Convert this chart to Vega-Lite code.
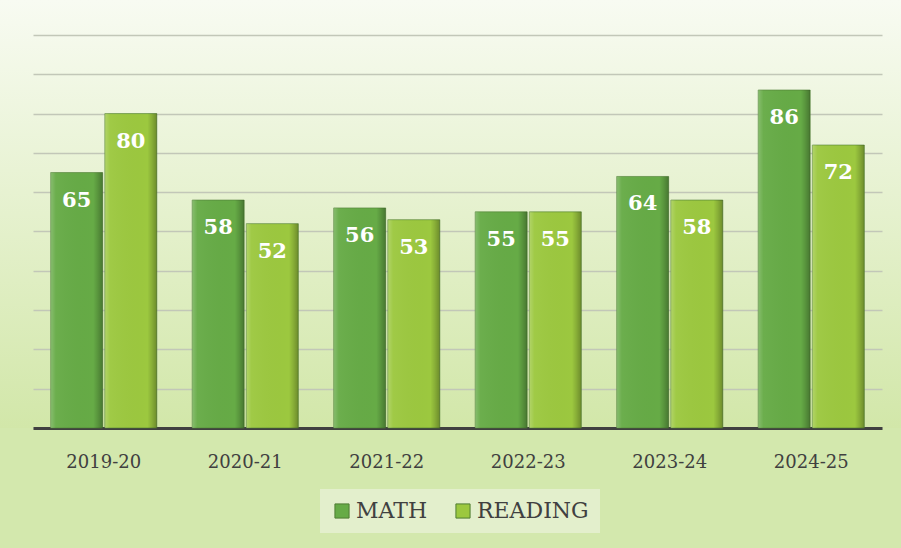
{
  "$schema": "https://vega.github.io/schema/vega-lite/v6.json",
  "width": 901,
  "height": 428,
  "autosize": {"type": "none"},
  "padding": {"left": 0, "top": 0, "right": 0, "bottom": 120},
  "background": "#d3e8ad",
  "view": {
    "stroke": null,
    "fill": {
      "gradient": "linear",
      "x1": 0, "y1": 0, "x2": 0, "y2": 1,
      "stops": [
        {"offset": 0, "color": "#f8fbf2"},
        {"offset": 1, "color": "#d2e7a9"}
      ]
    }
  },
  "data": {
    "values": [
      {"year": "2019-20", "subject": "MATH", "value": 65},
      {"year": "2019-20", "subject": "READING", "value": 80},
      {"year": "2020-21", "subject": "MATH", "value": 58},
      {"year": "2020-21", "subject": "READING", "value": 52},
      {"year": "2021-22", "subject": "MATH", "value": 56},
      {"year": "2021-22", "subject": "READING", "value": 53},
      {"year": "2022-23", "subject": "MATH", "value": 55},
      {"year": "2022-23", "subject": "READING", "value": 55},
      {"year": "2023-24", "subject": "MATH", "value": 64},
      {"year": "2023-24", "subject": "READING", "value": 58},
      {"year": "2024-25", "subject": "MATH", "value": 86},
      {"year": "2024-25", "subject": "READING", "value": 72}
    ]
  },
  "encoding": {
    "x": {
      "field": "year",
      "type": "nominal",
      "sort": null,
      "scale": {"range": [33, 882], "paddingInner": 0.25, "paddingOuter": 0.125},
      "axis": {
        "title": null,
        "ticks": false,
        "grid": false,
        "labelAngle": 0,
        "domainColor": "#404040",
        "domainWidth": 3,
        "labelFont": "DejaVu Serif",
        "labelFontSize": 18,
        "labelColor": "#404040",
        "labelPadding": 25
      }
    },
    "xOffset": {
      "field": "subject",
      "sort": ["MATH", "READING"],
      "scale": {"paddingInner": 0.04}
    },
    "y": {
      "field": "value",
      "type": "quantitative",
      "scale": {"domain": [0, 108.9], "nice": false},
      "axis": {
        "values": [0, 10, 20, 30, 40, 50, 60, 70, 80, 90, 100],
        "labels": false,
        "ticks": false,
        "domain": false,
        "title": null,
        "grid": true,
        "gridColor": "#c2c7b8",
        "gridWidth": 1.5,
        "minExtent": 0
      }
    }
  },
  "layer": [
    {
      "mark": {"type": "bar", "stroke": "#4e7d33", "strokeWidth": 1, "strokeOpacity": 0.6},
      "encoding": {
        "color": {
          "field": "subject",
          "type": "nominal",
          "scale": {"domain": ["MATH", "READING"], "range": ["#66ab46", "#9cc83f"]},
          "legend": {
            "orient": "none",
            "legendX": 320,
            "legendY": 489,
            "direction": "horizontal",
            "title": null,
            "fillColor": "#e3efcc",
            "padding": 11,
            "symbolType": "square",
            "symbolSize": 200,
            "symbolStrokeColor": "#4e7d33",
            "symbolStrokeWidth": 1,
            "labelFont": "DejaVu Serif",
            "labelFontSize": 22,
            "labelColor": "#404040",
            "labelOffset": 3,
            "columnPadding": 24
          }
        }
      }
    },
    {
      "mark": {
        "type": "bar",
        "fill": {
          "gradient": "linear",
          "x1": 0, "y1": 0, "x2": 1, "y2": 0,
          "stops": [
            {"offset": 0, "color": "rgba(255,255,255,0.22)"},
            {"offset": 0.1, "color": "rgba(255,255,255,0.04)"},
            {"offset": 0.82, "color": "rgba(0,0,0,0)"},
            {"offset": 0.9, "color": "rgba(0,0,0,0.12)"},
            {"offset": 1, "color": "rgba(0,0,0,0.3)"}
          ]
        }
      },
      "encoding": {}
    },
    {
      "mark": {
        "type": "text",
        "baseline": "middle",
        "dy": 28,
        "color": "white",
        "font": "DejaVu Serif",
        "fontSize": 21,
        "fontWeight": "bold"
      },
      "encoding": {"text": {"field": "value", "type": "quantitative"}}
    }
  ]
}
